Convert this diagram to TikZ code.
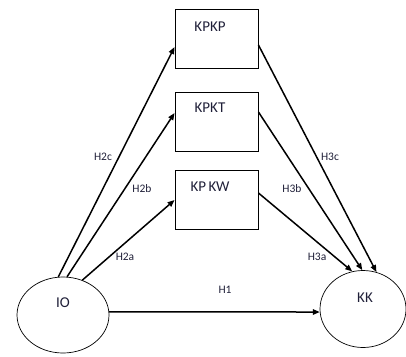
\documentclass[tikz,border=0pt]{standalone}
\usepackage{fontspec}
\setmainfont{Carlito}
\usetikzlibrary{arrows.meta,shapes.geometric}
\definecolor{txt}{rgb}{0.12,0.12,0.22}
\tikzset{
  boxnode/.style={draw, line width=0.9pt, minimum width=83pt, minimum height=59pt, inner sep=0pt},
  ovalnode/.style={draw, ellipse, line width=0.7pt, inner sep=0pt},
  conn/.style={line width=1.5pt, -{Triangle[length=7pt,width=5.5pt]}},
  lab/.style={text=txt, font=\fontsize{11.5}{13}\selectfont, inner sep=0pt},
  boxlab/.style={text=txt, font=\fontsize{15}{17}\selectfont, inner sep=0pt}
}
\begin{document}
\begin{tikzpicture}[x=1pt,y=-1pt]
\useasboundingbox (0,0) rectangle (406,356);
\node[boxnode] (KPKP) at (216.5,39) {};
\node[boxnode] (KPKT) at (216.5,122) {};
\node[boxnode] (KPKW) at (216.5,200) {};
\node[boxlab] (tKPKP) at (210,27) {KPKP};
\node[boxlab] (tKPKT) at (210,108) {KPKT};
\node[boxlab] (tKPKW) at (210,187) {KP\,KW};
\node[ovalnode, minimum width=92pt, minimum height=76pt] (IO) at (63,315) {};
\node[ovalnode, minimum width=86pt, minimum height=77pt] (KK) at (363,309) {};
\node[boxlab] (tIO) at (63,303) {IO};
\node[boxlab] (tKK) at (365,298) {KK};
% H2 arrows
\draw[conn] (IO.97) -- ([yshift=-8pt]KPKP.west);
\draw[conn] (IO.84) -- ([yshift=9pt]KPKT.west);
\draw[conn] (IO.61) -- (KPKW.west);
% H1
\draw[conn] (IO.4) -- (KK.184);
% H3 arrows
\draw[conn] ([yshift=-6pt]KPKP.east) -- (KK.70);
\draw[conn] ([yshift=10pt]KPKT.east) -- (KK.91);
\draw[conn] ([yshift=7pt]KPKW.east) -- (KK.106);
% labels
\node[lab] (l2c) at (103,157) {H2c};
\node[lab] (l2b) at (142,189) {H2b};
\node[lab] (l2a) at (125,257) {H2a};
\node[lab] (l1) at (225,290) {H1};
\node[lab] (l3c) at (330,157) {H3c};
\node[lab] (l3b) at (292,189) {H3b};
\node[lab] (l3a) at (317,257) {H3a};
\end{tikzpicture}
\end{document}
